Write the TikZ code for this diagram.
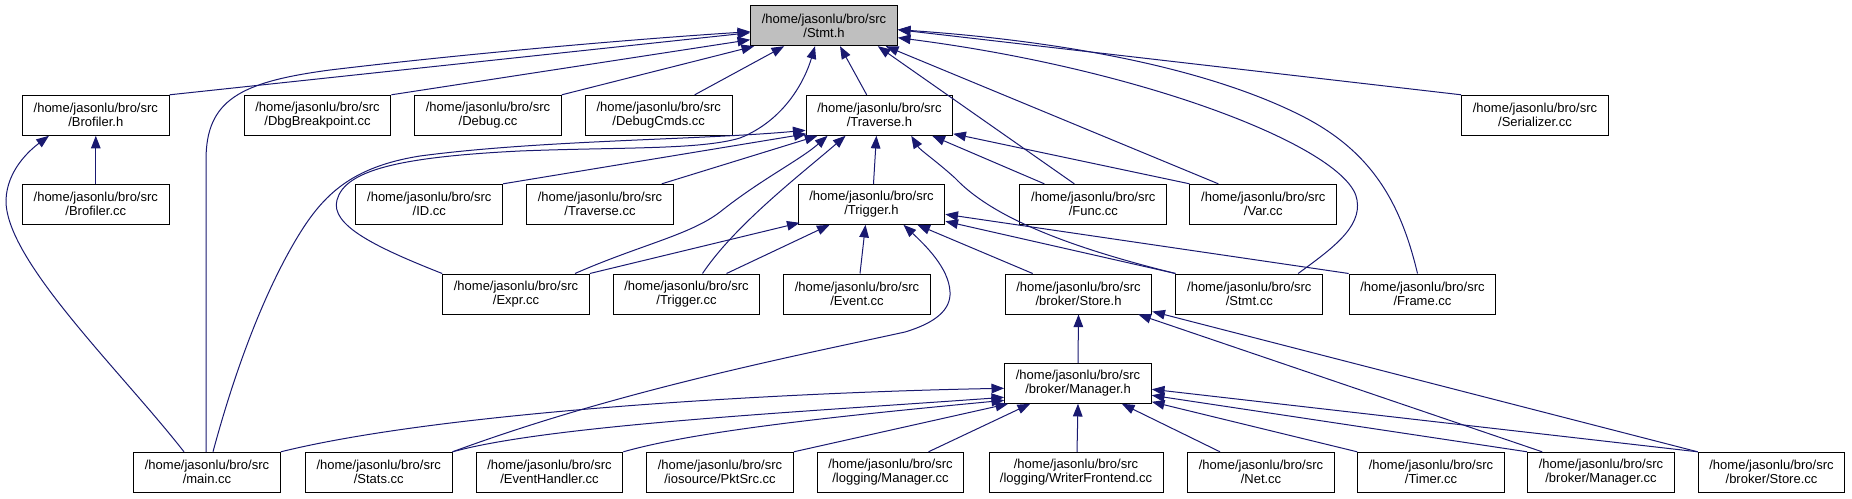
\documentclass[tikz,border=0pt]{standalone}
\usepackage{fontspec}
\setmainfont{Liberation Sans}
\usetikzlibrary{arrows.meta,calc}
\definecolor{edgeblue}{HTML}{191970}
\definecolor{hdrgray}{HTML}{BFBFBF}
\tikzset{
  box/.style={draw=black, line width=0.75pt, fill=white, minimum width=110pt,
    minimum height=30pt, inner sep=0pt, align=center,
    font=\fontsize{9.75}{10.5}\selectfont},
  widebox/.style={box, minimum width=130.5pt},
  rootbox/.style={box, fill=hdrgray},
  edge/.style={draw=edgeblue, line width=0.75pt, -{Triangle[length=9.5pt,width=7.2pt]}}
}
\begin{document}
\begin{tikzpicture}[x=0.75pt, y=-0.75pt]
\useasboundingbox (0,0) rectangle (1852,499);
% row 0
\node[rootbox] (stmth) at (824,25.7) {/home/jasonlu/bro/src\\/Stmt.h};
% row 1
\node[box] (brofh) at (95.8,115.3) {/home/jasonlu/bro/src\\/Brofiler.h};
\node[box] (dbgbp) at (317.5,115.3) {/home/jasonlu/bro/src\\/DbgBreakpoint.cc};
\node[box] (debug) at (488,115.3) {/home/jasonlu/bro/src\\/Debug.cc};
\node[box] (dbgcmds) at (658.7,115.3) {/home/jasonlu/bro/src\\/DebugCmds.cc};
\node[box] (travh) at (879.4,115.3) {/home/jasonlu/bro/src\\/Traverse.h};
\node[box] (serial) at (1535,115.3) {/home/jasonlu/bro/src\\/Serializer.cc};
% row 2
\node[box] (brofcc) at (95.8,204.3) {/home/jasonlu/bro/src\\/Brofiler.cc};
\node[box] (idcc) at (429.3,204.3) {/home/jasonlu/bro/src\\/ID.cc};
\node[box] (travcc) at (600,204.3) {/home/jasonlu/bro/src\\/Traverse.cc};
\node[box] (trigh) at (871.5,204.3) {/home/jasonlu/bro/src\\/Trigger.h};
\node[box] (func) at (1093.3,204.3) {/home/jasonlu/bro/src\\/Func.cc};
\node[box] (var) at (1263.3,204.3) {/home/jasonlu/bro/src\\/Var.cc};
% row 3
\node[box] (expr) at (516,294) {/home/jasonlu/bro/src\\/Expr.cc};
\node[box] (trigcc) at (686.5,294) {/home/jasonlu/bro/src\\/Trigger.cc};
\node[box] (event) at (857,294) {/home/jasonlu/bro/src\\/Event.cc};
\node[box] (storeh) at (1078.5,294) {/home/jasonlu/bro/src\\/broker/Store.h};
\node[box] (stmtcc) at (1249.3,294) {/home/jasonlu/bro/src\\/Stmt.cc};
\node[box] (frame) at (1422.5,294) {/home/jasonlu/bro/src\\/Frame.cc};
% row 4
\node[box] (mgrh) at (1078,383.3) {/home/jasonlu/bro/src\\/broker/Manager.h};
% row 5
\node[box] (main) at (207,472.3) {/home/jasonlu/bro/src\\/main.cc};
\node[box] (stats) at (378.7,472.3) {/home/jasonlu/bro/src\\/Stats.cc};
\node[box] (evh) at (549.5,472.3) {/home/jasonlu/bro/src\\/EventHandler.cc};
\node[box] (pkt) at (720,472.3) {/home/jasonlu/bro/src\\/iosource/PktSrc.cc};
\node[box] (logm) at (890.5,472.3) {/home/jasonlu/bro/src\\/logging/Manager.cc};
\node[widebox] (wf) at (1076,472.3) {/home/jasonlu/bro/src\\/logging/WriterFrontend.cc};
\node[box] (net) at (1261,472.3) {/home/jasonlu/bro/src\\/Net.cc};
\node[box] (timer) at (1431,472.3) {/home/jasonlu/bro/src\\/Timer.cc};
\node[box] (bmcc) at (1601,472.3) {/home/jasonlu/bro/src\\/broker/Manager.cc};
\node[box] (bscc) at (1771.5,472.3) {/home/jasonlu/bro/src\\/broker/Store.cc};

% edges into Stmt.h
\draw[edge] (brofh.north east) -- ($(stmth.west)+(0,7)$);
\draw[edge] ($(main.north)+(-1,0)$) -- (206,160) .. controls (206,100) and (240,82) .. (330,70) .. controls (480,52) and (650,38) .. ($(stmth.west)+(0,6)$);
\draw[edge] (dbgbp.north east) -- ($(stmth.west)+(0,14)$);
\draw[edge] (debug.north east) -- ($(stmth.south west)+(4,0)$);
\draw[edge] ($(dbgcmds.north)+(36,0)$) -- ($(stmth.south west)+(34,0)$);
\draw[edge] (expr.north west) .. controls (375,247) and (330,225) .. (337,200) .. controls (345,170) and (400,157) .. (520,151) .. controls (620,147) and (700,150) .. (740,138) .. controls (785,120) and (805,80) .. ($(stmth.south)+(-9,0)$);
\draw[edge] ($(travh.north)+(-12.7,0)$) -- ($(stmth.south)+(16,0)$);
\draw[edge] (serial.north west) -- ($(stmth.east)+(0,4)$);
\draw[edge] ($(func.north)+(-19,0)$) -- ($(stmth.south east)+(-20,0)$);
\draw[edge] ($(var.north)+(-45,0)$) -- ($(stmth.south east)+(-12,0)$);
\draw[edge] ($(stmtcc.north east)+(-25,0)$) .. controls (1330,250) and (1362,228) .. (1357,200) .. controls (1350,150) and (1150,70) .. ($(stmth.east)+(0,12)$);
\draw[edge] ($(frame.north)+(-5,0)$) .. controls (1400,200) and (1370,150) .. (1300,115) .. controls (1200,65) and (1050,40) .. ($(stmth.east)+(0,4)$);

% edges into Traverse.h
\draw[edge] (idcc.north east) -- ($(travh.south west)+(1,-2)$);
\draw[edge] ($(travcc.north east)+(-12,0)$) -- ($(travh.south west)+(12,0)$);
\draw[edge] ($(trigh.north)+(2,0)$) -- ($(travh.south)+(-3,0)$);
\draw[edge] ($(expr.north)+(59,0)$) .. controls (640,245) and (690,235) .. (720,212) .. controls (760,180) and (800,160) .. ($(travh.south west)+(22,0)$);
\draw[edge] ($(trigcc.north)+(16,0)$) .. controls (735,225) and (800,175) .. ($(travh.south west)+(40,0)$);
\draw[edge] ($(func.north)+(-49,0)$) -- ($(travh.south east)+(-21,0)$);
\draw[edge] (var.north west) -- ($(travh.south east)+(0,-2)$);
\draw[edge] (stmtcc.north west) .. controls (1060,245) and (990,215) .. (955,178) .. controls (935,160) and (920,150) .. ($(travh.south east)+(-42,0)$);
\draw[edge] ($(main.north)+(6,0)$) .. controls (235,370) and (262,300) .. (290,250) .. controls (318,200) and (345,168) .. (420,156) .. controls (540,140) and (700,140) .. ($(travh.west)+(0,15)$);

% edges into Trigger.h
\draw[edge] (expr.north east) -- ($(trigh.south west)+(2,-2)$);
\draw[edge] ($(trigcc.north)+(40,0)$) -- ($(trigh.south west)+(32,0)$);
\draw[edge] ($(event.north)+(3,0)$) -- ($(trigh.south)+(-6,0)$);
\draw[edge] (stats.north east) .. controls (620,390) and (800,355) .. (905,332) .. controls (935,323) and (951,310) .. (950,292) .. controls (949,268) and (925,245) .. ($(trigh.south)+(32,0)$);
\draw[edge] ($(storeh.north west)+(28,0)$) -- ($(trigh.south east)+(-28,0)$);
\draw[edge] (stmtcc.north west) -- ($(trigh.east)+(0,17)$);
\draw[edge] (frame.north west) -- ($(trigh.east)+(0,10)$);

% edges into broker/Store.h
\draw[edge] (mgrh.north) -- (storeh.south);
\draw[edge] ($(bmcc.north west)+(15,0)$) -- ($(storeh.south east)+(-14,0)$);
\draw[edge] (bscc.north west) -- ($(storeh.south east)+(0,-3)$);

% edges into broker/Manager.h
\draw[edge] (main.north east) .. controls (450,410) and (800,392) .. ($(mgrh.west)+(0,5)$);
\draw[edge] (stats.north east) .. controls (550,425) and (800,412) .. ($(mgrh.west)+(0,14)$);
\draw[edge] (evh.north east) .. controls (700,430) and (850,415) .. ($(mgrh.west)+(0,17)$);
\draw[edge] (pkt.north east) -- ($(mgrh.south west)+(4,0)$);
\draw[edge] ($(logm.north)+(38,0)$) -- ($(mgrh.south west)+(26,0)$);
\draw[edge] ($(wf.north)+(1,0)$) -- (mgrh.south);
\draw[edge] ($(net.north)+(-41,0)$) -- ($(mgrh.south east)+(-30,0)$);
\draw[edge] (timer.north west) -- ($(mgrh.south east)+(0,-2)$);
\draw[edge] (bmcc.north west) -- ($(mgrh.east)+(0,12)$);
\draw[edge] (bscc.north west) -- ($(mgrh.east)+(0,6)$);

% edges into Brofiler.h
\draw[edge] (brofcc.north) -- (brofh.south);
\draw[edge] ($(main.north)+(-23,0)$) .. controls (120,370) and (5,260) .. (6,200) .. controls (7,170) and (30,150) .. ($(brofh.south west)+(27,0)$);
\end{tikzpicture}
\end{document}
